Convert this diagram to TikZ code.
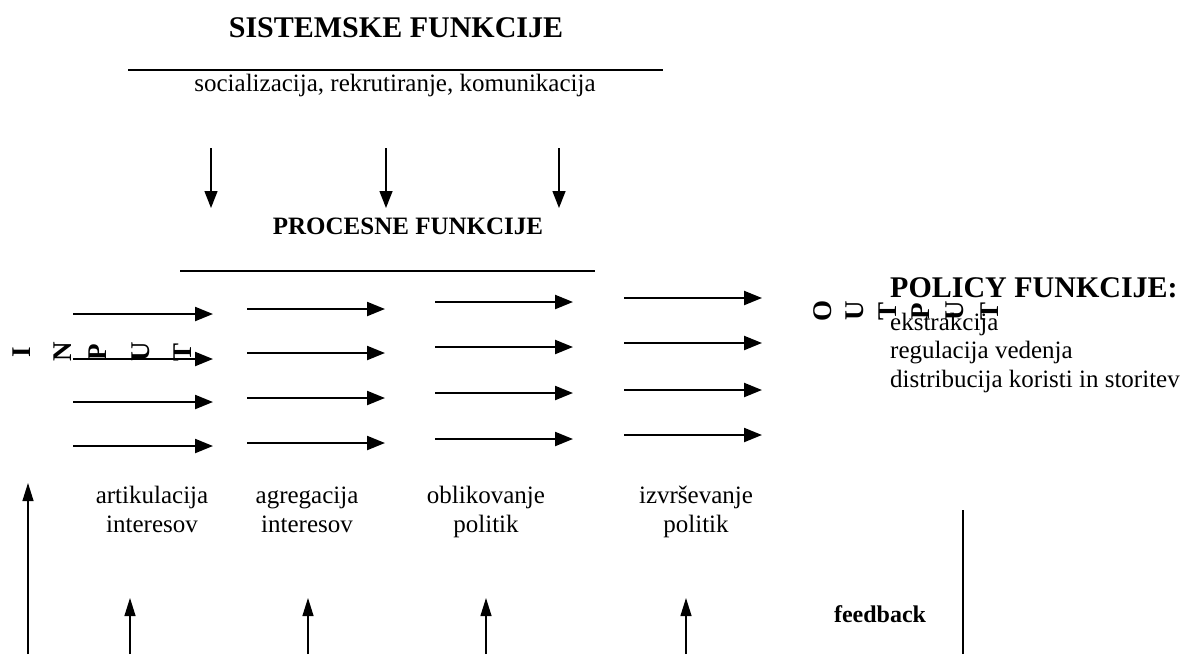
\documentclass[tikz,border=0pt]{standalone}
\usepackage{fontspec}
\setmainfont{Liberation Serif}
\usetikzlibrary{positioning}
\usetikzlibrary{arrows.meta}
\tikzset{
        plaintext/.style={inner sep=0pt, font=\fontsize{25}{29}\selectfont},
        % Big titles
        title_big/.style={plaintext, font=\fontsize{30}{34}\selectfont\bfseries},
        % Small titles
        title_small/.style={plaintext, font=\fontsize{25}{29}\selectfont\bfseries},
        % Rotated letters of input and output
        letter_rot/.style={plaintext, font=\fontsize{27}{27}\selectfont\bfseries, rotate=90},
        % Arrows through the process
        flow_arrow/.style={line width=2.2pt, -{Triangle[length=18pt,width=14pt]}},
        down_arrow/.style={line width=1.4pt, -{Triangle[length=17pt,width=13pt]}},
        up_arrow/.style={line width=1.2pt, -{Triangle[length=18pt,width=11pt]}},
        rule_line/.style={line width=1.6pt}
}
\begin{document}
\begin{tikzpicture}[x=1pt, y=-1pt]
    \useasboundingbox (0,0) rectangle (1194,654);

    % System functions
    \node[title_big, anchor=base] (sys) at (396,37) {SISTEMSKE FUNKCIJE};
    \coordinate (sysL) at (128,70);
    \coordinate (sysR) at (663,70);
    \draw[rule_line] (sysL) -- (sysR);
    \node[plaintext, anchor=base] (sysfun) at (395,91) {socializacija, rekrutiranje, komunikacija};
    \foreach \x [count=\i] in {211,386,559} {
        \coordinate (dtop\i) at (\x,148);
        \coordinate (dbot\i) at (\x,208);
        \draw[down_arrow] (dtop\i) -- (dbot\i);
    }

    % Process functions
    \node[title_small, anchor=base] (proc) at (408,234) {PROCESNE FUNKCIJE};
    \coordinate (procL) at (180,271);
    \coordinate (procR) at (595,271);
    \draw[rule_line] (procL) -- (procR);
    \foreach \xa/\xb/\ya/\yb/\yc/\yd [count=\c] in {73/213/314/359/402/446, 247/385/309/353/398/443, 435/573/302/347/393/439, 624/762/298/343/390/435} {
        \foreach \y [count=\r] in {\ya,\yb,\yc,\yd} {
            \coordinate (fs\c\r) at (\xa,\y);
            \coordinate (fe\c\r) at (\xb,\y);
            \draw[flow_arrow] (fs\c\r) -- (fe\c\r);
        }
    }
    \foreach \x/\ta/\tb [count=\c] in {152/artikulacija/interesov, 307/agregacija/interesov, 486/oblikovanje/politik, 696/izvrševanje/politik} {
        \node[plaintext, anchor=base] (lab\c a) at (\x,503) {\ta};
        \node[plaintext, anchor=base] (lab\c b) at (\x,532) {\tb};
    }

    % Input and output
    \foreach \x/\l [count=\i] in {22/I, 63/N, 98/P, 141/U, 183/T} {
        \node[letter_rot] (in\i) at (\x,352) {\l};
    }
    \foreach \x/\l [count=\i] in {823/O, 855/U, 888/T, 921/P, 955/U, 990/T} {
        \node[letter_rot] (out\i) at (\x,311) {\l};
    }

    % Policy functions
    \node[title_big, anchor=base west] (pol) at (890,297) {POLICY FUNKCIJE:};
    \node[plaintext, anchor=base west] (pol1) at (890,330) {ekstrakcija};
    \node[plaintext, anchor=base west] (pol2) at (890,358) {regulacija vedenja};
    \node[plaintext, anchor=base west] (pol3) at (890,387) {distribucija koristi in storitev};

    % Feedback
    \node[plaintext, font=\fontsize{24}{28}\selectfont\bfseries, anchor=base] (fb) at (880,622) {feedback};
    \coordinate (fbtop) at (963,510);
    \coordinate (fbbot) at (963,654);
    \draw[line width=1.2pt] (fbbot) -- (fbtop);
    \coordinate (inbot) at (28,654);
    \coordinate (intop) at (28,483);
    \draw[up_arrow] (inbot) -- (intop);
    \foreach \x [count=\i] in {130,308,486,686} {
        \coordinate (ubot\i) at (\x,654);
        \coordinate (utop\i) at (\x,598);
        \draw[up_arrow] (ubot\i) -- (utop\i);
    }
\end{tikzpicture}
\end{document}
